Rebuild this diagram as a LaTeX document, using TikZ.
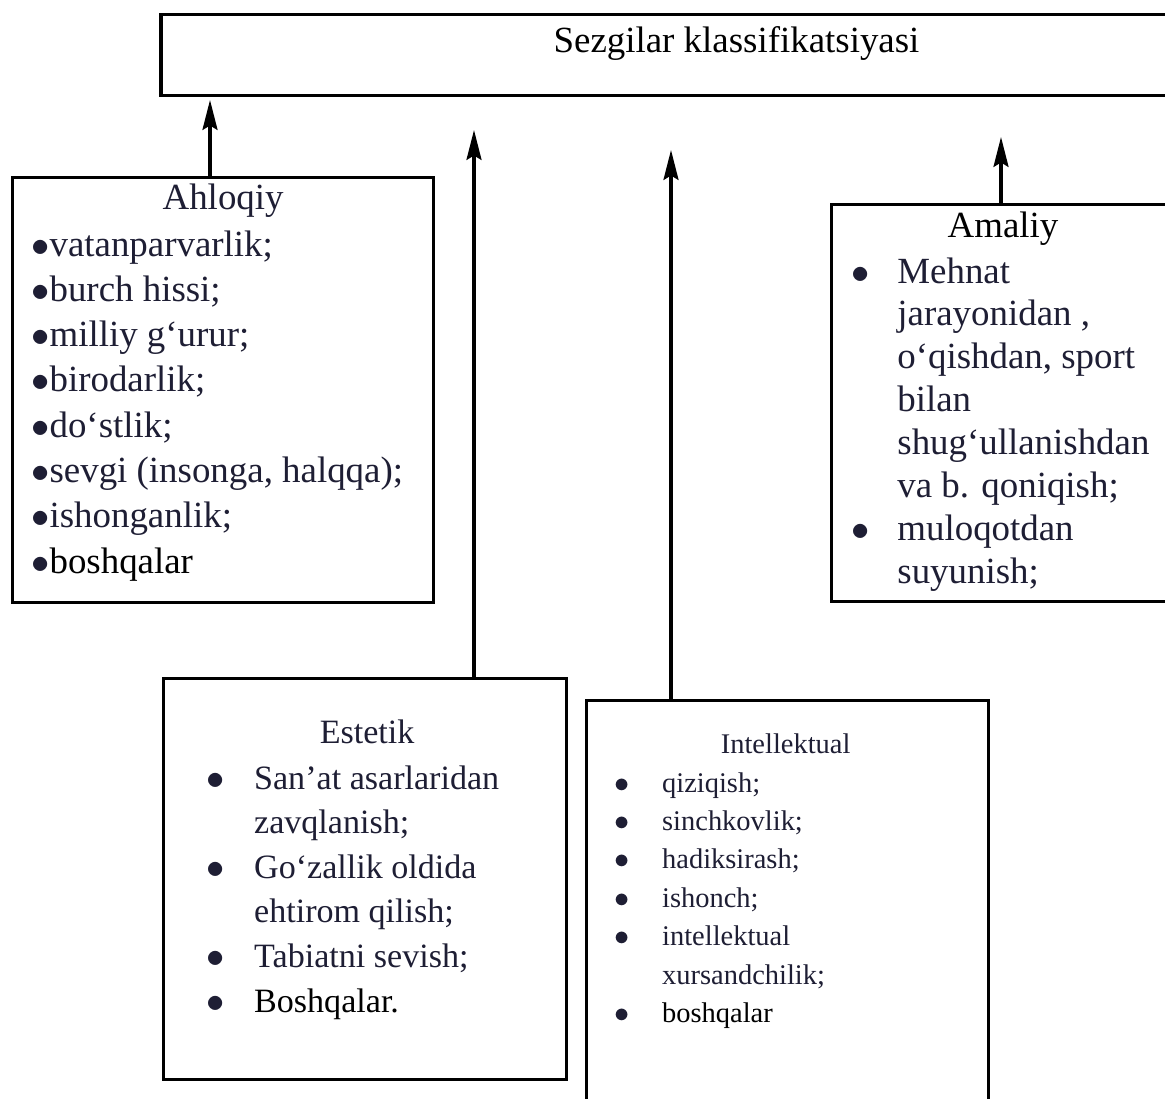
\documentclass[tikz,border=0pt]{standalone}
\usepackage{fontspec}
\setmainfont{Liberation Serif}
\usetikzlibrary{arrows.meta,positioning,calc}

\definecolor{ink}{RGB}{30,30,52}
\newcommand{\bul}{$\bullet$}

\begin{document}
\begin{tikzpicture}[%
    x=0.02cm,
    y=-0.02cm,
    >={Stealth[length=17pt,width=8.5pt,inset=2.5pt]},
    box/.style={draw, line width=1.9pt, inner sep=0pt, anchor=north west},
    head/.style={inner sep=0pt, text=ink, anchor=base},
    items/.style={inner sep=0pt, text=ink, anchor=base west},
    big/.style={font={\fontsize{21}{25.8}\selectfont}},
    link/.style={->, line width=1.9pt}
  ]
  \useasboundingbox (0,0) rectangle (1165,1098);
  \clip (0,0) rectangle (1165,1098);

  \node[box, anchor=north, minimum width=23.02cm, minimum height=1.62cm,
        text height=21.6pt, text depth=24.5pt, big] (top) at (736.5,13)
        {Sezgilar klassifikatsiyasi};

  % Ahloqiy
  \node[box, minimum width=8.42cm, minimum height=8.5cm] (ahl) at (11,176) {};
  \node[head, big] (ahlT) at ($(ahl.north)+(0,34)$) {Ahloqiy};
  \node[items, big] (ahlL) at (31,256) {\begin{tabular}[t]{@{}l@{}}
    \bul vatanparvarlik;\\
    \bul burch hissi;\\
    \bul milliy g‘urur;\\
    \bul birodarlik;\\
    \bul do‘stlik;\\
    \bul sevgi (insonga, halqqa);\\
    \bul ishonganlik;\\
    \bul\color{black}boshqalar
  \end{tabular}};

  % Estetik
  \node[box, minimum width=8.06cm, minimum height=8.02cm] (est) at (162,677) {};
  \node[head, font={\fontsize{19.4}{25.4}\selectfont}] (estT)
    at ($(est.north)+(2,66)$) {Estetik};
  \node[items, font={\fontsize{19.4}{25.4}\selectfont}] (estL) at (206,789)
    {\begin{tabular}[t]{@{}p{27.2pt}@{}l@{}}
    \bul & San’at asarlaridan\\
         & zavqlanish;\\
    \bul & Go‘zallik oldida\\
         & ehtirom qilish;\\
    \bul & Tabiatni sevish;\\
    \bul & \color{black}Boshqalar.
  \end{tabular}};

  % Intellektual
  \node[box, minimum width=8.04cm, minimum height=9.2cm] (int) at (585,699) {};
  \node[head, font={\fontsize{16.2}{21.9}\selectfont}] (intT)
    at ($(int.north)+(-2,54)$) {Intellektual};
  \node[items, font={\fontsize{16.2}{21.9}\selectfont}] (intL) at (614,792)
    {\begin{tabular}[t]{@{}p{27.2pt}@{}l@{}}
    \bul & qiziqish;\\
    \bul & sinchkovlik;\\
    \bul & hadiksirash;\\
    \bul & ishonch;\\
    \bul & intellektual\\
         & xursandchilik;\\
    \bul & \color{black}boshqalar
  \end{tabular}};

  % Amaliy
  \node[box, minimum width=8.2cm, minimum height=7.94cm] (ama) at (830,203) {};
  \node[head, big, text=black] (amaT) at (1003,237) {Amaliy};
  \node[items, font={\fontsize{21}{24.4}\selectfont}] (amaL) at (851,283)
    {\begin{tabular}[t]{@{}p{26.2pt}@{}l@{}}
    \bul & Mehnat\\
         & jarayonidan ,\\
         & o‘qishdan, sport\\
         & bilan\\
         & shug‘ullanishdan\\
         & va b. qoniqish;\\
    \bul & muloqotdan\\
         & suyunish;
  \end{tabular}};

  \coordinate (up1) at (210,100);
  \coordinate (up2) at (474,130);
  \coordinate (up3) at (671,150);
  \coordinate (up4) at (1001,137);

  \draw[link] (ahl.north -| up1) -- (up1);
  \draw[link] (est.north -| up2) -- (up2);
  \draw[link] (int.north -| up3) -- (up3);
  \draw[link] (ama.north -| up4) -- (up4);

\end{tikzpicture}
\end{document}
